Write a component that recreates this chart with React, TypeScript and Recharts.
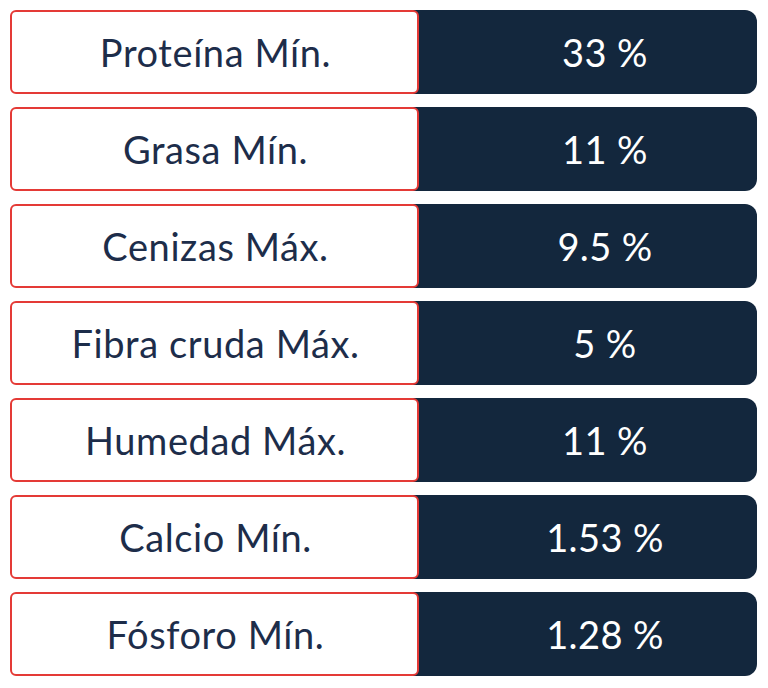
import { BarChart, Bar, XAxis, YAxis } from 'recharts'

const nutrients = ['Proteína Mín.', 'Grasa Mín.', 'Cenizas Máx.', 'Fibra cruda Máx.', 'Humedad Máx.', 'Calcio Mín.', 'Fósforo Mín.']
const percents = [33, 11, 9.5, 5, 11, 1.53, 1.28]

const data = nutrients.map((name, i) => ({ name, value: percents[i] }))

const NAVY = '#13273d'
const RED = '#e43a36'
const LABEL_W = 409

function RowBackground(props: any) {
  const { x, y, width, height, index } = props
  const row = data[index]
  const cy = y + height / 2
  return (
    <g>
      <rect x={x} y={y} width={width} height={height} rx={12} ry={12} fill={NAVY} />
      <rect x={x + 1} y={y + 1} width={LABEL_W - 2} height={height - 2} rx={5} ry={5} fill="#ffffff" stroke={RED} strokeWidth={2} />
      <text x={x + LABEL_W / 2 + 1} y={cy} textAnchor="middle" dominantBaseline="central" fill="#1d2d4a" fontSize={38} letterSpacing={0.6} fontFamily="Lato, sans-serif">
        {row.name}
      </text>
      <text x={x + 595} y={cy} textAnchor="middle" dominantBaseline="central" fill="#ffffff" fontSize={38} letterSpacing={0.4} fontFamily="Lato, sans-serif">
        {`${row.value} %`}
      </text>
    </g>
  )
}

export default function App() {
  return (
    <div style={{ position: 'absolute', left: 0, top: 0, width: 768, height: 688, background: '#ffffff' }}>
      <BarChart
        width={768}
        height={688}
        data={data}
        layout="vertical"
        margin={{ top: 3, right: 11, bottom: 6, left: 10 }}
      >
        <XAxis type="number" hide domain={[0, 40]} />
        <YAxis type="category" dataKey="name" hide />
        <Bar
          dataKey="value"
          barSize={84}
          isAnimationActive={false}
          background={<RowBackground />}
          shape={() => <g />}
        />
      </BarChart>
    </div>
  )
}
